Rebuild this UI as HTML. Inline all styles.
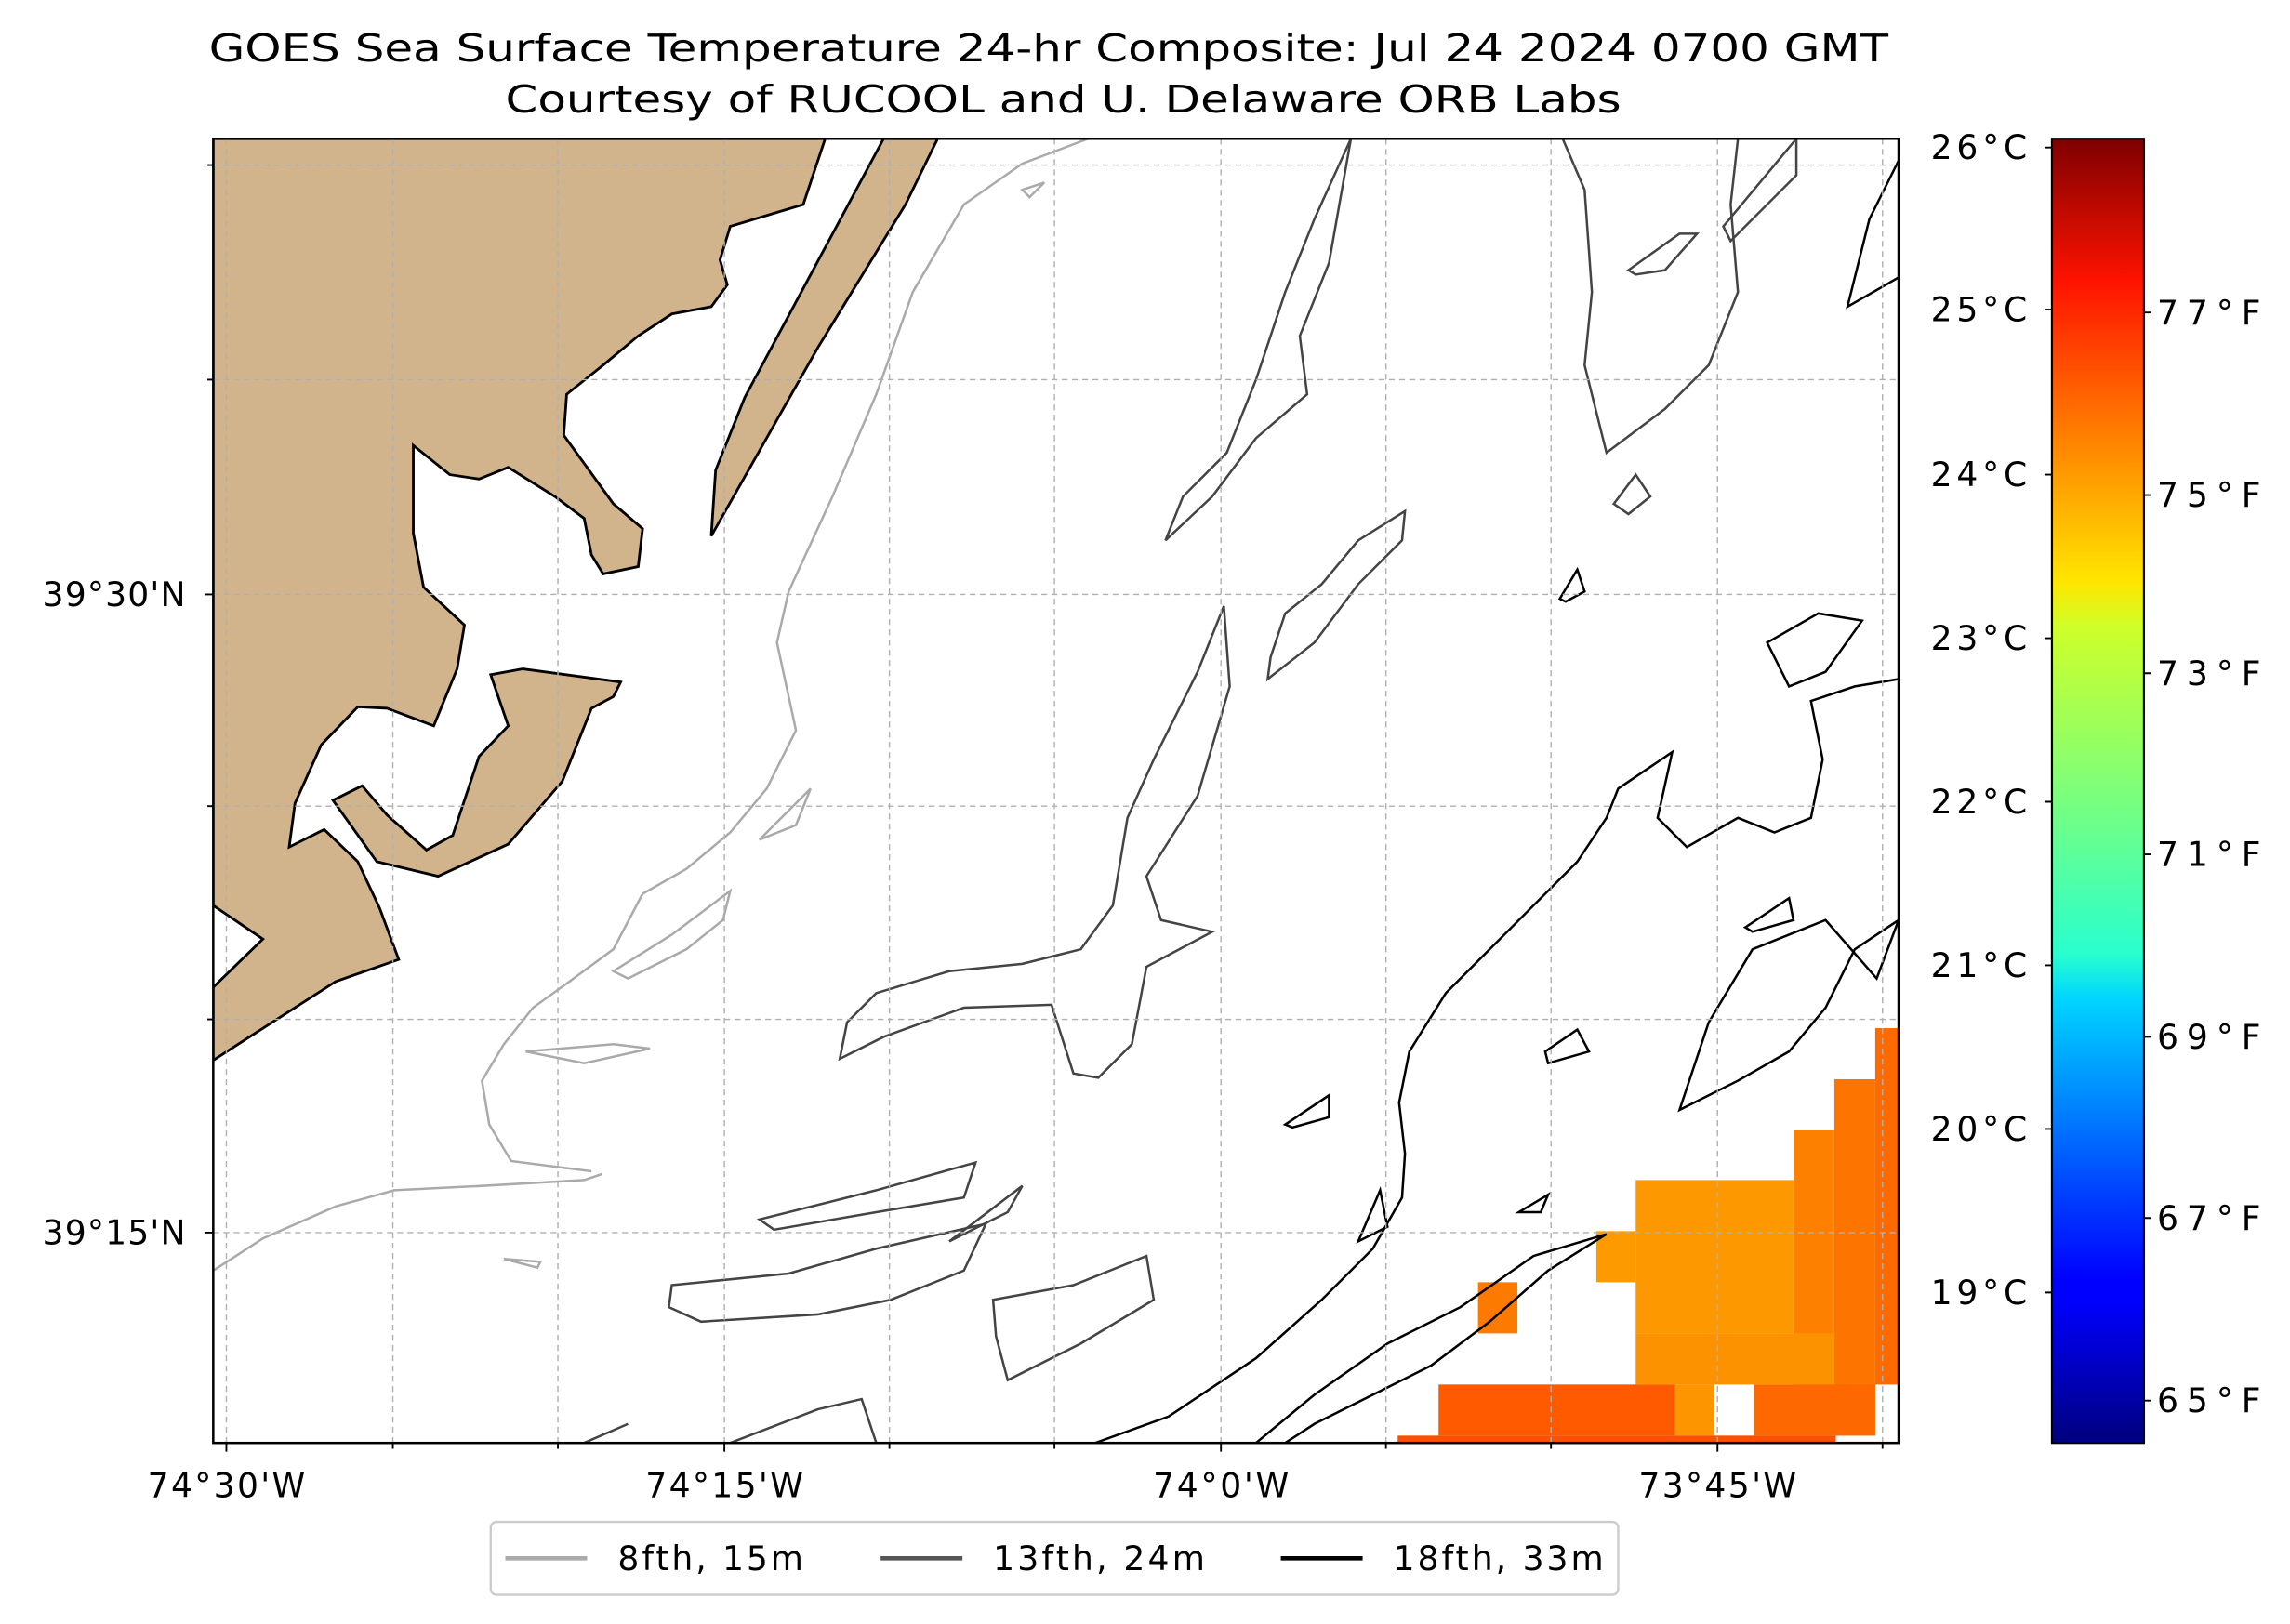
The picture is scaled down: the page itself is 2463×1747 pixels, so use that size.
<!DOCTYPE html>
<html><head><meta charset="utf-8"><style>html,body{margin:0;padding:0;background:#fff}svg{display:block}</style></head>
<body>
<svg width="2463" height="1747" viewBox="0 0 1568 1112" preserveAspectRatio="none" xmlns="http://www.w3.org/2000/svg" font-family="DejaVu Sans, Liberation Sans, sans-serif">
<defs>
<linearGradient id="jet" x1="0" y1="1" x2="0" y2="0">
<stop offset="0" stop-color="#00007f"/><stop offset="0.11" stop-color="#0000ff"/><stop offset="0.125" stop-color="#0000ff"/>
<stop offset="0.34" stop-color="#00d4ff"/><stop offset="0.375" stop-color="#29ffce"/><stop offset="0.5" stop-color="#7dff7a"/>
<stop offset="0.625" stop-color="#ceff29"/><stop offset="0.66" stop-color="#ffe600"/><stop offset="0.89" stop-color="#ff1300"/><stop offset="1" stop-color="#7f0000"/>
</linearGradient>
<clipPath id="ax"><rect x="146" y="95" width="1154" height="893"/></clipPath>
</defs>
<text x="718" y="42" font-size="26" text-anchor="middle" textLength="1150" lengthAdjust="spacingAndGlyphs">GOES Sea Surface Temperature 24-hr Composite: Jul 24 2024 0700 GMT</text>
<text x="728" y="77" font-size="26" text-anchor="middle" textLength="764" lengthAdjust="spacingAndGlyphs">Courtesy of RUCOOL and U. Delaware ORB Labs</text>
<g clip-path="url(#ax)">
<rect x="1284" y="704" width="16" height="244" fill="#fc6a00"/>
<rect x="1256" y="739" width="28" height="244" fill="#fe7400"/>
<rect x="1228" y="774" width="28" height="174" fill="#fd8000"/>
<rect x="1120" y="808" width="108" height="105" fill="#fd9800"/>
<rect x="1120" y="913" width="136" height="35" fill="#fd9200"/>
<rect x="1093" y="843" width="27" height="35" fill="#fd9a00"/>
<rect x="1012" y="878" width="27" height="35" fill="#fd7a00"/>
<rect x="985" y="948" width="162" height="35" fill="#ff5a00"/>
<rect x="1147" y="948" width="27" height="35" fill="#fd9500"/>
<rect x="1201" y="948" width="83" height="35" fill="#fe6800"/>
<rect x="957" y="983" width="300" height="5" fill="#ff5000"/>
<path d="M146,95 L565,95 L550,140 L500,155 L493,178 L498,195 L487,210 L460,215 L437,230 L413,250 L388,270 L386,298 L420,345 L440,362 L437,388 L413,393 L405,380 L400,355 L380,340 L348,320 L328,328 L308,325 L283,305 L283,365 L290,402 L318,428 L313,458 L297,497 L265,485 L245,484 L220,510 L202,550 L198,580 L222,568 L245,590 L260,622 L273,657 L230,672 L146,726 L146,676 L180,643 L146,620 Z" fill="#d2b48c" stroke="#000" stroke-width="1.8"/>
<path d="M336,462 L358,458 L425,467 L420,477 L405,485 L385,535 L348,578 L300,600 L258,590 L228,548 L248,538 L265,558 L292,582 L310,572 L328,518 L348,497 Z" fill="#d2b48c" stroke="#000" stroke-width="1.8"/>
<path d="M605,95 L642,95 L620,140 L560,238 L487,367 L490,322 L510,272 Z" fill="#d2b48c" stroke="#000" stroke-width="1.8"/>
<g fill="none" stroke="#aaa" stroke-width="1.6">
<path d="M745,95 L700,112 L660,140 L625,200 L600,270 L570,340 L540,405 L532,440 L545,500 L525,540 L500,570 L470,595 L440,612 L420,650 L390,672 L365,690 L345,715 L330,740 L335,770 L350,795 L405,802"/>
<path d="M146,870 L180,848 L230,826 L270,815 L330,812 L400,808 L412,804"/>
<path d="M420,665 L460,640 L500,610 L495,630 L470,650 L430,670 Z"/>
<path d="M520,575 L555,540 L545,565 Z"/>
<path d="M360,720 L420,715 L445,718 L400,728 Z"/>
<path d="M700,130 L715,125 L705,135 Z"/>
<path d="M345,862 L370,864 L368,868 Z"/>
</g>
<g fill="none" stroke="#444" stroke-width="1.6">
<path d="M838,415 L820,460 L790,520 L772,560 L762,620 L740,650 L700,660 L650,665 L600,680 L580,700 L575,725 L605,710 L660,690 L720,688 L735,735 L752,738 L775,715 L785,662 L830,638 L795,630 L785,600 L820,545 L842,470 Z"/>
<path d="M925,95 L900,150 L880,200 L860,260 L840,310 L810,340 L798,370 L830,340 L860,300 L895,270 L890,230 L910,180 Z"/>
<path d="M962,350 L930,370 L905,400 L880,420 L870,450 L868,465 L900,440 L930,400 L960,370 Z"/>
<path d="M520,835 L600,815 L668,796 L660,820 L600,830 L530,842 Z"/>
<path d="M460,880 L540,872 L600,855 L675,838 L660,870 L610,890 L560,900 L480,905 L458,895 Z"/>
<path d="M650,850 L700,812 L690,830 L660,845 Z"/>
<path d="M680,890 L735,880 L785,860 L790,890 L740,920 L690,945 L682,915 Z"/>
<path d="M500,988 L560,965 L590,958 L600,988"/>
<path d="M1070,95 L1085,130 L1090,200 L1085,250 L1100,310 L1140,280 L1170,250 L1190,200 L1185,140 L1190,95"/>
<path d="M1115,185 L1150,160 L1162,160 L1140,185 L1120,188 Z"/>
<path d="M1105,345 L1120,325 L1130,340 L1115,352 Z"/>
<path d="M1180,155 L1230,95 L1230,120 L1200,150 L1185,165 Z"/>
<path d="M400,988 L430,975"/>
</g>
<g fill="none" stroke="#000" stroke-width="1.6">
<path d="M750,988 L800,970 L860,930 L905,890 L940,855 L960,820 L962,790 L958,755 L965,720 L990,680 L1030,640 L1060,610 L1080,590 L1100,560 L1108,540 L1145,515 L1135,560 L1155,580 L1190,560 L1215,570 L1240,560 L1248,520 L1240,480 L1270,470 L1300,465"/>
<path d="M1300,630 L1270,650 L1250,690 L1225,720 L1190,740 L1150,760 L1170,700 L1200,650 L1250,630 L1285,670 Z"/>
<path d="M1300,110 L1280,150 L1265,210 L1300,190"/>
<path d="M860,988 L900,955 L950,920 L1000,895 L1050,860 L1100,845 L1060,870 L1020,905 L980,935 L940,955 L900,975 L880,988"/>
<path d="M1058,720 L1080,705 L1088,720 L1060,728 Z"/>
<path d="M880,770 L910,750 L910,765 L885,772 Z"/>
<path d="M930,850 L945,815 L950,840 Z"/>
<path d="M1195,635 L1225,615 L1228,630 L1200,638 Z"/>
<path d="M1068,410 L1080,390 L1085,405 L1072,412 Z"/>
<path d="M1210,440 L1245,420 L1275,425 L1250,460 L1225,470 Z"/>
<path d="M1040,830 L1060,818 L1055,830 Z"/>
</g>
<g stroke="#b0b0b0" stroke-width="0.9" stroke-dasharray="4,3">
<path d="M155,95V988M269,95V988M382,95V988M496,95V988M609,95V988M722,95V988M836,95V988M949,95V988M1062,95V988M1176,95V988M1289,95V988"/>
<path d="M146,113H1300M146,260H1300M146,407H1300M146,552H1300M146,698H1300M146,844H1300"/>
</g>
</g>
<rect x="146" y="95" width="1154" height="893" fill="none" stroke="#000" stroke-width="1.6"/>
<g stroke="#000" stroke-width="1.2">
<path d="M155,988v6M269,988v4M382,988v4M496,988v6M609,988v4M722,988v4M836,988v6M949,988v4M1062,988v4M1176,988v6M1289,988v4"/>
<path d="M146,113h-4M146,260h-4M146,407h-6M146,552h-4M146,698h-4M146,844h-6"/>
</g>
<g font-size="23" lengthAdjust="spacingAndGlyphs">
<text x="155" y="1025" text-anchor="middle" textLength="108">74°30'W</text>
<text x="496" y="1025" text-anchor="middle" textLength="108">74°15'W</text>
<text x="836" y="1025" text-anchor="middle" textLength="93">74°0'W</text>
<text x="1176" y="1025" text-anchor="middle" textLength="108">73°45'W</text>
<text x="127" y="415" text-anchor="end" textLength="98">39°30'N</text>
<text x="127" y="852" text-anchor="end" textLength="98">39°15'N</text>
</g>
<rect x="1405" y="95" width="63" height="893" fill="url(#jet)" stroke="#000" stroke-width="1.4"/>
<g stroke="#000" stroke-width="1.2">
<path d="M1405,101h-5M1405,212h-5M1405,325h-5M1405,437h-5M1405,549h-5M1405,661h-5M1405,773h-5M1405,885h-5"/>
<path d="M1468,214h5M1468,339h5M1468,461h5M1468,585h5M1468,710h5M1468,834h5M1468,959h5"/>
</g>
<g font-size="23">
<text x="1388" y="109" text-anchor="end" textLength="66">26°C</text>
<text x="1388" y="220" text-anchor="end" textLength="66">25°C</text>
<text x="1388" y="333" text-anchor="end" textLength="66">24°C</text>
<text x="1388" y="445" text-anchor="end" textLength="66">23°C</text>
<text x="1388" y="557" text-anchor="end" textLength="66">22°C</text>
<text x="1388" y="669" text-anchor="end" textLength="66">21°C</text>
<text x="1388" y="781" text-anchor="end" textLength="66">20°C</text>
<text x="1388" y="893" text-anchor="end" textLength="66">19°C</text>
<text x="1477" y="222" textLength="71">77°F</text>
<text x="1477" y="347" textLength="71">75°F</text>
<text x="1477" y="469" textLength="71">73°F</text>
<text x="1477" y="593" textLength="71">71°F</text>
<text x="1477" y="718" textLength="71">69°F</text>
<text x="1477" y="842" textLength="71">67°F</text>
<text x="1477" y="967" textLength="71">65°F</text>
</g>
<rect x="336" y="1042" width="772" height="50" rx="4" fill="#fff" stroke="#ccc" stroke-width="1.5"/>
<g stroke-width="3">
<line x1="346" y1="1067" x2="402" y2="1067" stroke="#aaa"/>
<line x1="603" y1="1067" x2="659" y2="1067" stroke="#555"/>
<line x1="877" y1="1067" x2="933" y2="1067" stroke="#000"/>
</g>
<g font-size="23">
<text x="423" y="1075" textLength="127">8fth, 15m</text>
<text x="680" y="1075" textLength="145">13fth, 24m</text>
<text x="954" y="1075" textLength="144">18fth, 33m</text>
</g>
</svg>
</body></html>
